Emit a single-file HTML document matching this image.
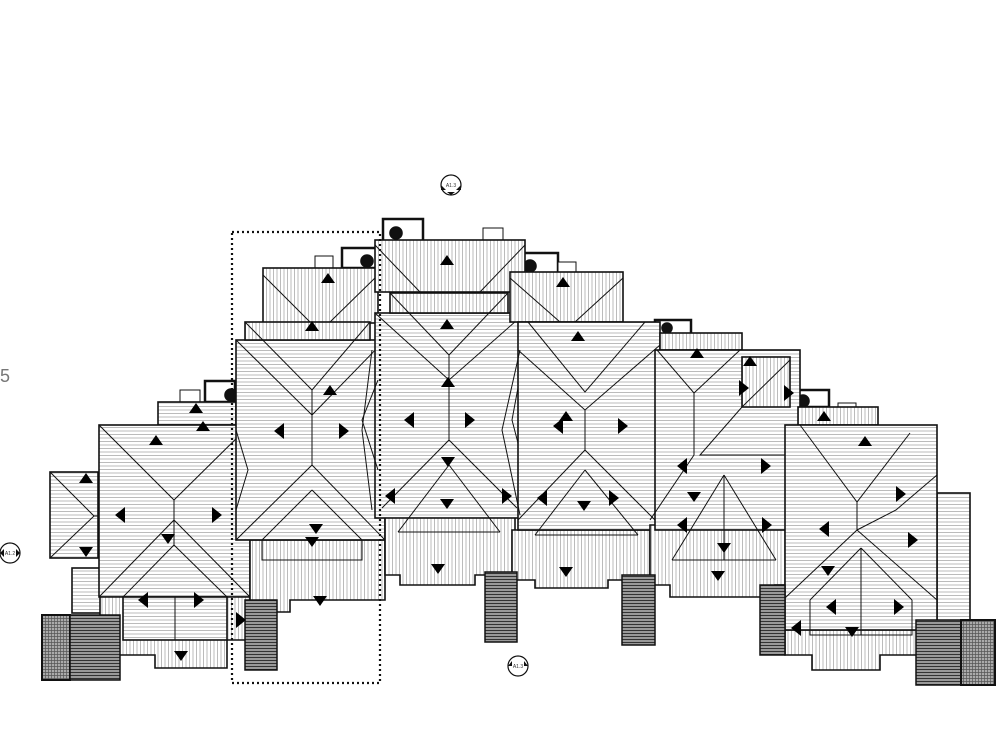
<!DOCTYPE html>
<html><head><meta charset="utf-8"><style>
html,body{margin:0;padding:0;background:#fff;}
svg{display:block;}
</style></head><body>
<svg width="1000" height="750" viewBox="0 0 1000 750" xmlns="http://www.w3.org/2000/svg" font-family="Liberation Sans, sans-serif">
<defs>
<pattern id="h" width="4" height="3.5" patternUnits="userSpaceOnUse"><rect width="4" height="3.5" fill="#fff"/><line x1="0" y1="0.5" x2="4" y2="0.5" stroke="#aaa" stroke-width="0.8"/></pattern>
<pattern id="v" width="3.5" height="4" patternUnits="userSpaceOnUse"><rect width="3.5" height="4" fill="#fff"/><line x1="0.5" y1="0" x2="0.5" y2="4" stroke="#aaa" stroke-width="0.8"/></pattern>
<pattern id="st" width="4" height="3" patternUnits="userSpaceOnUse"><rect width="4" height="3" fill="#999"/><line x1="0" y1="0.5" x2="4" y2="0.5" stroke="#333" stroke-width="1"/></pattern>
<pattern id="gr" width="3" height="3" patternUnits="userSpaceOnUse"><rect width="3" height="3" fill="#aaa"/><path d="M0 0.5H3M0.5 0V3" stroke="#555" stroke-width="0.7"/></pattern>
</defs>
<g stroke="#111" stroke-width="1.6">
<g fill="#fff">
<rect x="383" y="219" width="40" height="22" stroke-width="2.5"/>
<rect x="342" y="248" width="35" height="20" stroke-width="2.5"/>
<rect x="520" y="253" width="38" height="20" stroke-width="2.5"/>
<rect x="655" y="320" width="36" height="14" stroke-width="2.5"/>
<rect x="793" y="390" width="36" height="17" stroke-width="2.5"/>
<rect x="205" y="381" width="30" height="21" stroke-width="2.5"/>
<rect x="483" y="228" width="20" height="12" stroke-width="1"/>
<rect x="315" y="256" width="18" height="12" stroke-width="1"/>
<rect x="558" y="262" width="18" height="11" stroke-width="1"/>
<rect x="180" y="390" width="20" height="12" stroke-width="1"/>
<rect x="838" y="403" width="18" height="8" stroke-width="1"/>
</g>
<g fill="#111"><circle cx="396" cy="233" r="6"/><circle cx="367" cy="261" r="6"/><circle cx="530" cy="266" r="6"/><circle cx="667" cy="328" r="5"/><circle cx="803" cy="401" r="6"/><circle cx="231" cy="395" r="6"/></g>

<rect x="50" y="472" width="48" height="86" fill="url(#h)"/>
<path d="M50 472L94 516L50 558M94 516H98" fill="none" stroke-width="1"/>
<rect x="158" y="402" width="78" height="23" fill="url(#h)"/>
<rect x="72" y="568" width="30" height="45" fill="url(#h)"/>
<rect x="99" y="425" width="151" height="172" fill="url(#h)"/>
<path d="M99 425L174 500L250 425M174 500V520L99 597M174 520L250 597M174 545L123 597M174 545L227 597M174 520V545" fill="none" stroke-width="1"/>
<polygon points="100,597 250,597 250,640 227,640 227,668 155,668 155,655 100,655" fill="url(#v)"/>
<rect x="123" y="597" width="104" height="43" fill="url(#h)"/>
<line x1="175" y1="597" x2="175" y2="640" stroke-width="1"/>
<rect x="263" y="268" width="115" height="55" fill="url(#v)"/>
<path d="M263 275L310 322M378 275L330 322" fill="none" stroke-width="1"/>
<polygon points="250,540 385,540 385,600 290,600 290,612 250,612" fill="url(#v)"/>
<rect x="236" y="340" width="149" height="200" fill="url(#h)"/>
<rect x="245" y="322" width="125" height="18" fill="url(#v)"/>
<path d="M245 322L312 390L370 322M236 340L312 415L385 340M312 390V465L236 540M312 465L385 540M312 490L262 540M312 490L362 540M262 540V560H362V540" fill="none" stroke-width="1"/>
<path d="M236 430L248 470L236 510M372 350L362 430L372 510" fill="none" stroke-width="1"/>
<rect x="375" y="240" width="150" height="52" fill="url(#v)"/>
<path d="M375 245L420 292M525 245L480 292" fill="none" stroke-width="1"/>
<polygon points="385,515 515,515 515,575 475,575 475,585 400,585 400,575 385,575" fill="url(#v)"/>
<rect x="375" y="313" width="150" height="205" fill="url(#h)"/>
<rect x="390" y="293" width="118" height="20" fill="url(#v)"/>
<path d="M390 293L449 355L508 293M375 313L449 380L525 313M449 380V440L382 508M449 440L517 508M449 465L398 532M449 465L500 532M398 532H500M449 355V380" fill="none" stroke-width="1"/>
<path d="M378 380L362 420L378 470M525 350L512 420L525 470" fill="none" stroke-width="1"/>
<rect x="510" y="272" width="113" height="50" fill="url(#v)"/>
<path d="M510 278L560 322M623 278L575 322" fill="none" stroke-width="1"/>
<polygon points="512,530 650,530 650,580 608,580 608,588 535,588 535,580 512,580" fill="url(#v)"/>
<rect x="518" y="322" width="142" height="208" fill="url(#h)"/>
<path d="M528 322L585 392L645 322M518 350L585 410L660 345M585 410V450L518 520M585 450L655 520M585 470L535 535M585 470L638 535M535 535H638" fill="none" stroke-width="1"/>
<path d="M520 350L502 430L520 515M660 355L672 430L660 510" fill="none" stroke-width="1"/>
<polygon points="650,525 790,525 790,585 775,585 775,597 670,597 670,585 650,585" fill="url(#v)"/>
<rect x="660" y="333" width="82" height="17" fill="url(#v)"/>
<rect x="655" y="350" width="145" height="180" fill="url(#h)"/>
<rect x="742" y="357" width="48" height="50" fill="url(#v)"/>
<path d="M657 350L694 393L740 350M694 393V455L650 520M742 407L700 455H790M724 475L672 560M724 475L776 560M672 560H776M724 475V560M742 407L790 360" fill="none" stroke-width="1"/>
<path d="M795 430L785 470L795 500" fill="none" stroke-width="1"/>
<polygon points="785,630 937,630 937,655 880,655 880,670 812,670 812,655 785,655" fill="url(#v)"/>
<rect x="937" y="493" width="33" height="147" fill="url(#h)"/>
<rect x="798" y="407" width="80" height="18" fill="url(#v)"/>
<rect x="785" y="425" width="152" height="205" fill="url(#h)"/>
<path d="M800 425L857 502L910 433M857 502V530L785 598M857 530L937 600M861 548L810 600M861 548L912 600M810 600V635H912V600M861 548V635M857 530L896 510L937 475" fill="none" stroke-width="1"/>
<rect x="42" y="615" width="28" height="65" fill="url(#gr)" stroke-width="2"/>
<rect x="70" y="615" width="50" height="65" fill="url(#st)" stroke-width="1.5"/>
<rect x="245" y="600" width="32" height="70" fill="url(#st)" stroke-width="1.5"/>
<rect x="485" y="572" width="32" height="70" fill="url(#st)" stroke-width="1.5"/>
<rect x="622" y="575" width="33" height="70" fill="url(#st)" stroke-width="1.5"/>
<rect x="760" y="585" width="25" height="70" fill="url(#st)" stroke-width="1.5"/>
<rect x="916" y="620" width="45" height="65" fill="url(#st)" stroke-width="1.5"/>
<rect x="961" y="620" width="34" height="65" fill="url(#gr)" stroke-width="2"/>
</g>
<rect x="232" y="232" width="148" height="451" fill="none" stroke="#111" stroke-width="2.2" stroke-dasharray="2,3"/>
<g fill="#000">
<path d="M149 445l7-10 7 10z M79 483l7-10 7 10z M305 331l7-10 7 10z M321 283l7-10 7 10z M440 265l7-10 7 10z M440 329l7-10 7 10z M556 287l7-10 7 10z M571 341l7-10 7 10z M690 358l7-10 7 10z M743 366l7-10 7 10z M858 446l7-10 7 10z M817 421l7-10 7 10z M559 421l7-10 7 10z M441 387l7-10 7 10z M323 395l7-10 7 10z M189 413l7-10 7 10z M196 431l7-10 7 10z"/>
<path d="M161 534l7 10 7-10z M79 547l7 10 7-10z M305 537l7 10 7-10z M313 596l7 10 7-10z M441 457l7 10 7-10z M440 499l7 10 7-10z M559 567l7 10 7-10z M577 501l7 10 7-10z M687 492l7 10 7-10z M717 543l7 10 7-10z M711 571l7 10 7-10z M821 566l7 10 7-10z M845 627l7 10 7-10z M174 651l7 10 7-10z M431 564l7 10 7-10z M309 524l7 10 7-10z"/>
<path d="M125 507l-10 8 10 8z M148 592l-10 8 10 8z M284 423l-10 8 10 8z M414 412l-10 8 10 8z M563 418l-10 8 10 8z M687 458l-10 8 10 8z M687 517l-10 8 10 8z M829 521l-10 8 10 8z M836 599l-10 8 10 8z M801 620l-10 8 10 8z M395 488l-10 8 10 8z M547 490l-10 8 10 8z"/>
<path d="M212 507l10 8-10 8z M194 592l10 8-10 8z M339 423l10 8-10 8z M465 412l10 8-10 8z M618 418l10 8-10 8z M761 458l10 8-10 8z M762 517l10 8-10 8z M896 486l10 8-10 8z M908 532l10 8-10 8z M894 599l10 8-10 8z M236 612l10 8-10 8z M784 385l10 8-10 8z M739 380l10 8-10 8z M502 488l10 8-10 8z M609 490l10 8-10 8z"/>
</g>
<g fill="#fff" stroke="#111" stroke-width="1.2">
<circle cx="451" cy="185" r="10"/><circle cx="10" cy="553" r="10"/><circle cx="518" cy="666" r="10"/>
</g>
<g fill="#111"><path d="M441 185l5 5h-5zM461 185l-5 5h5zM451 195l-4-3h8z"/><path d="M0 553l4-4v8zM20 553l-4-4v8z"/><path d="M508 666l4-5v5zM528 666l-4-5v5z"/></g>
<g font-size="5" fill="#333" text-anchor="middle"><text x="451" y="187">A1.3</text><text x="10" y="555">A1.2</text><text x="518" y="668">A1.3</text></g>
<text x="0" y="382" font-size="18" fill="#777">5</text>
</svg>
</body></html>
